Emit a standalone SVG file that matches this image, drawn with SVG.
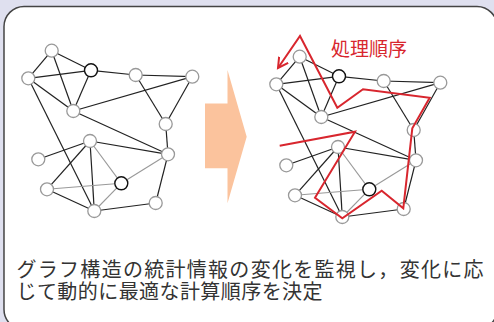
<svg xmlns="http://www.w3.org/2000/svg" width="494" height="322" viewBox="0 0 494 322">
<style>
.e{stroke:#222;stroke-width:1.2;fill:none}
.g{stroke:#999;stroke-width:1.1;fill:none}
.n circle{fill:#fff;stroke:#999;stroke-width:1.3}
.d circle{fill:#fff;stroke:#111;stroke-width:1.4}
.t{font-family:"Noto Sans CJK JP","Noto Sans CJK SC",sans-serif;font-size:20px;fill:#333}
</style>
<defs>
<marker id="ah" markerWidth="20" markerHeight="20" viewBox="-10 -10 20 20" refX="0" refY="0" orient="auto" markerUnits="userSpaceOnUse">
<path d="M-10,-5.5 L0,0 L-10,5.5" fill="none" stroke="#d8262e" stroke-width="2"/>
</marker>
</defs>
<rect width="494" height="322" fill="#dfe0ef"/>
<rect x="4" y="6.5" width="493" height="323" rx="20" fill="#fff" stroke="#444" stroke-width="1.5"/>
<g id="left-graph">
<g id="left-connectors">
<line class="e" x1="51.7" y1="50.7" x2="28.3" y2="78.3"/>
<line class="e" x1="51.7" y1="50.7" x2="91" y2="70.3"/>
<line class="e" x1="51.7" y1="50.7" x2="73.3" y2="111"/>
<line class="e" x1="28.3" y1="78.3" x2="91" y2="70.3"/>
<line class="e" x1="28.3" y1="78.3" x2="73.3" y2="111"/>
<line class="e" x1="28.3" y1="78.3" x2="94.3" y2="211"/>
<line class="e" x1="91" y1="70.3" x2="73.3" y2="111"/>
<line class="e" x1="91" y1="70.3" x2="135.7" y2="75"/>
<line class="e" x1="135.7" y1="75" x2="192.3" y2="76.7"/>
<line class="e" x1="135.7" y1="75" x2="165.7" y2="124"/>
<line class="e" x1="192.3" y1="76.7" x2="73.3" y2="111"/>
<line class="e" x1="192.3" y1="76.7" x2="165.7" y2="124"/>
<line class="e" x1="73.3" y1="111" x2="168" y2="154.3"/>
<line class="e" x1="165.7" y1="124" x2="168" y2="154.3"/>
<line class="e" x1="90" y1="141" x2="168" y2="154.3"/>
<line class="e" x1="90" y1="141" x2="38.3" y2="159.3"/>
<line class="e" x1="90" y1="141" x2="47" y2="189.3"/>
<line class="e" x1="90" y1="141" x2="94.3" y2="211"/>
<line class="e" x1="168" y1="154.3" x2="155.7" y2="203"/>
<line class="e" x1="47" y1="189.3" x2="94.3" y2="211"/>
<line class="e" x1="94.3" y1="211" x2="155.7" y2="203"/>
<line class="g" x1="90" y1="141" x2="121.3" y2="183.3"/>
<line class="g" x1="168" y1="154.3" x2="121.3" y2="183.3"/>
<line class="g" x1="47" y1="189.3" x2="121.3" y2="183.3"/>
<line class="g" x1="121.3" y1="183.3" x2="94.3" y2="211"/>
</g>
<g id="l-a" class="n"><circle cx="51.7" cy="50.7" r="6.5"/></g>
<g id="l-b" class="n"><circle cx="28.3" cy="78.3" r="6.5"/></g>
<g id="l-c" class="d"><circle cx="91" cy="70.3" r="6.5"/></g>
<g id="l-d" class="n"><circle cx="135.7" cy="75" r="6.5"/></g>
<g id="l-e" class="n"><circle cx="192.3" cy="76.7" r="6.5"/></g>
<g id="l-f" class="n"><circle cx="73.3" cy="111" r="6.5"/></g>
<g id="l-g" class="n"><circle cx="165.7" cy="124" r="6.5"/></g>
<g id="l-h" class="n"><circle cx="90" cy="141" r="6.5"/></g>
<g id="l-i" class="n"><circle cx="168" cy="154.3" r="6.5"/></g>
<g id="l-j" class="n"><circle cx="38.3" cy="159.3" r="6.5"/></g>
<g id="l-k" class="d"><circle cx="121.3" cy="183.3" r="6.5"/></g>
<g id="l-l" class="n"><circle cx="47" cy="189.3" r="6.5"/></g>
<g id="l-m" class="n"><circle cx="155.7" cy="203" r="6.5"/></g>
<g id="l-n" class="n"><circle cx="94.3" cy="211" r="6.5"/></g>
</g>
<g id="arrow"><path d="M205,103.5 H227.5 V70 L246.7,136.7 L227.5,203.3 V168.3 H205 Z" fill="#fbc39d"/></g>
<g id="right-graph" transform="translate(248,6)">
<g id="right-connectors">
<line class="e" x1="51.7" y1="50.7" x2="28.3" y2="78.3"/>
<line class="e" x1="51.7" y1="50.7" x2="91" y2="70.3"/>
<line class="e" x1="51.7" y1="50.7" x2="73.3" y2="111"/>
<line class="e" x1="28.3" y1="78.3" x2="91" y2="70.3"/>
<line class="e" x1="28.3" y1="78.3" x2="73.3" y2="111"/>
<line class="e" x1="28.3" y1="78.3" x2="94.3" y2="211"/>
<line class="e" x1="91" y1="70.3" x2="73.3" y2="111"/>
<line class="e" x1="91" y1="70.3" x2="135.7" y2="75"/>
<line class="e" x1="135.7" y1="75" x2="192.3" y2="76.7"/>
<line class="e" x1="135.7" y1="75" x2="165.7" y2="124"/>
<line class="e" x1="192.3" y1="76.7" x2="73.3" y2="111"/>
<line class="e" x1="192.3" y1="76.7" x2="165.7" y2="124"/>
<line class="e" x1="73.3" y1="111" x2="168" y2="154.3"/>
<line class="e" x1="165.7" y1="124" x2="168" y2="154.3"/>
<line class="e" x1="90" y1="141" x2="168" y2="154.3"/>
<line class="e" x1="90" y1="141" x2="38.3" y2="159.3"/>
<line class="e" x1="90" y1="141" x2="47" y2="189.3"/>
<line class="e" x1="90" y1="141" x2="94.3" y2="211"/>
<line class="e" x1="168" y1="154.3" x2="155.7" y2="203"/>
<line class="e" x1="47" y1="189.3" x2="94.3" y2="211"/>
<line class="e" x1="94.3" y1="211" x2="155.7" y2="203"/>
<line class="g" x1="90" y1="141" x2="121.3" y2="183.3"/>
<line class="g" x1="168" y1="154.3" x2="121.3" y2="183.3"/>
<line class="g" x1="47" y1="189.3" x2="121.3" y2="183.3"/>
<line class="g" x1="121.3" y1="183.3" x2="94.3" y2="211"/>
</g>
<g id="r-a" class="n"><circle cx="51.7" cy="50.7" r="6.5"/></g>
<g id="r-b" class="n"><circle cx="28.3" cy="78.3" r="6.5"/></g>
<g id="r-c" class="d"><circle cx="91" cy="70.3" r="6.5"/></g>
<g id="r-d" class="n"><circle cx="135.7" cy="75" r="6.5"/></g>
<g id="r-e" class="n"><circle cx="192.3" cy="76.7" r="6.5"/></g>
<g id="r-f" class="n"><circle cx="73.3" cy="111" r="6.5"/></g>
<g id="r-g" class="n"><circle cx="165.7" cy="124" r="6.5"/></g>
<g id="r-h" class="n"><circle cx="90" cy="141" r="6.5"/></g>
<g id="r-i" class="n"><circle cx="168" cy="154.3" r="6.5"/></g>
<g id="r-j" class="n"><circle cx="38.3" cy="159.3" r="6.5"/></g>
<g id="r-k" class="d"><circle cx="121.3" cy="183.3" r="6.5"/></g>
<g id="r-l" class="n"><circle cx="47" cy="189.3" r="6.5"/></g>
<g id="r-m" class="n"><circle cx="155.7" cy="203" r="6.5"/></g>
<g id="r-n" class="n"><circle cx="94.3" cy="211" r="6.5"/></g>
</g>
<g id="order-path">
<polyline points="279.7,145.7 355,131.7 315,197.7 342.3,218.3 381.7,190.7 403.3,208.3 412.3,128.3 429.7,97.7 363,89.3 337.3,107.7 300,36 278,68" fill="none" stroke="#d8262e" stroke-width="2" stroke-linejoin="miter" marker-end="url(#ah)"/>
<text x="331" y="55.5" font-family="'Noto Sans CJK JP','Noto Sans CJK SC',sans-serif" font-size="19" fill="#d8262e">処理順序</text>
</g>
<g id="caption">
<text class="t" x="16.5" y="277" textLength="467" lengthAdjust="spacing">グラフ構造の統計情報の変化を監視し，変化に応</text>
<text class="t" x="16.5" y="299" textLength="306" lengthAdjust="spacing">じて動的に最適な計算順序を決定</text>
</g>
</svg>
